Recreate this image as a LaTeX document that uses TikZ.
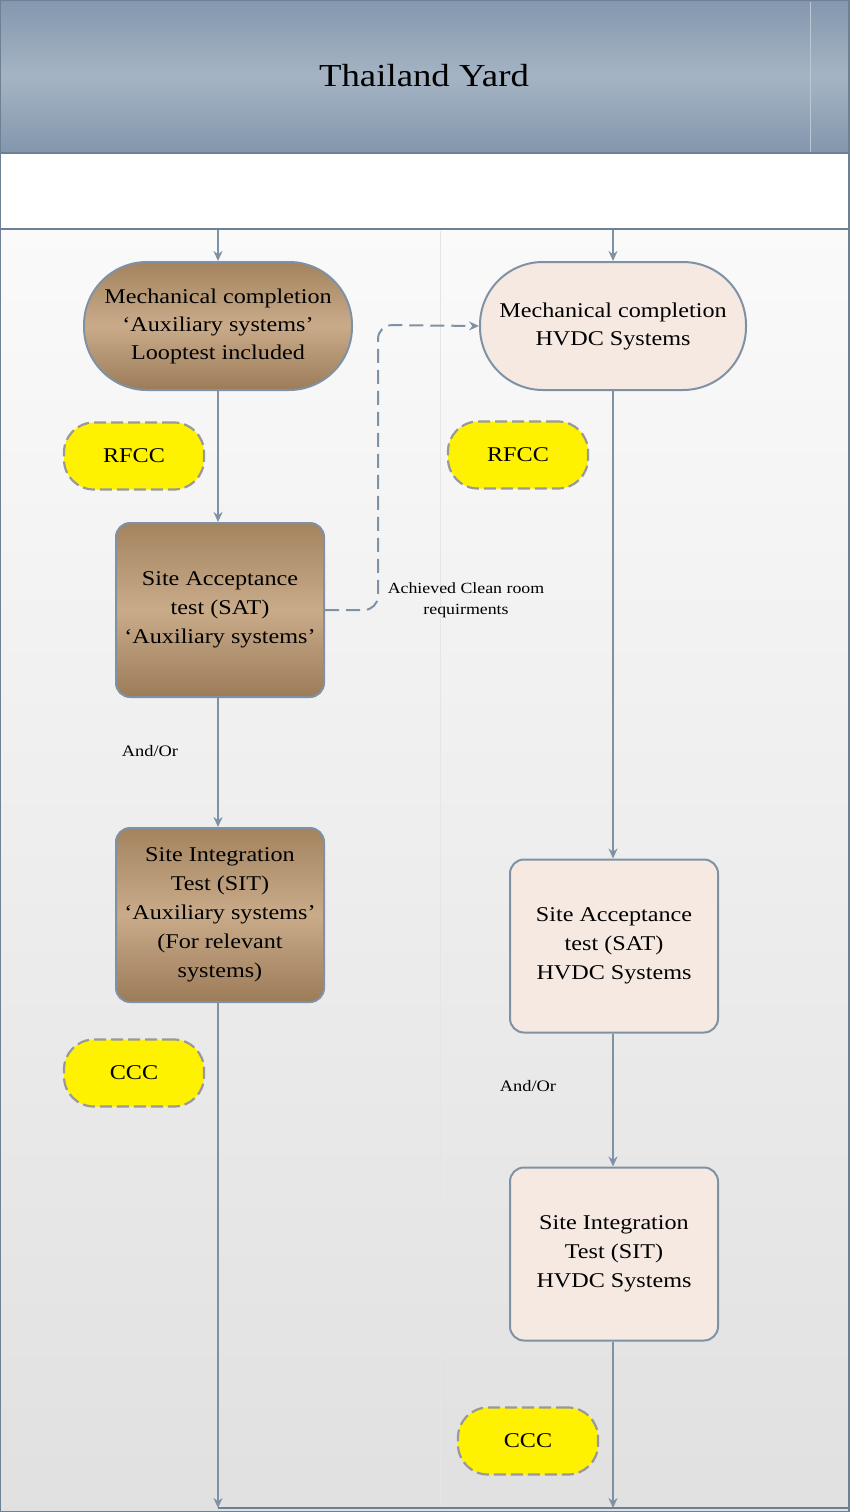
\documentclass[tikz,border=0pt]{standalone}
\usepackage{fontspec}
\setmainfont{Liberation Serif}[FakeStretch=1.15]
\usetikzlibrary{arrows.meta,shapes.misc}
\definecolor{lineC}{HTML}{7F92A5}
\definecolor{frameC}{HTML}{6E8194}
\definecolor{brTop}{HTML}{A4845F}
\definecolor{brMid}{HTML}{C9AB8A}
\definecolor{brBot}{HTML}{9C7B58}
\definecolor{pinkC}{HTML}{F5E9E2}
\definecolor{hdTop}{HTML}{8497AE}
\definecolor{hdMid}{HTML}{A5B4C4}
\definecolor{hdBot}{HTML}{8396AD}
\tikzset{
  conn/.style={draw=lineC, line width=2pt, -{Stealth[length=10pt,width=9pt]}},
  brownstadium/.style={draw=lineC, line width=2pt, top color=brTop, bottom color=brBot, middle color=brMid, shading=axis, minimum width=268pt, minimum height=128pt, rounded corners=63pt, align=center, font=\fontsize{21}{28}\selectfont},
  pinkstadium/.style={draw=lineC, line width=2pt, fill=pinkC, minimum width=266pt, minimum height=128pt, rounded corners=63pt, align=center, font=\fontsize{21}{28}\selectfont},
  brownbox/.style={draw=lineC, line width=2pt, top color=brTop, bottom color=brBot, middle color=brMid, shading=axis, minimum width=208pt, minimum height=174pt, rounded corners=14pt, align=center, font=\fontsize{21}{29}\selectfont},
  pinkbox/.style={draw=lineC, line width=2pt, fill=pinkC, minimum width=208pt, minimum height=173pt, rounded corners=14pt, align=center, font=\fontsize{21}{29}\selectfont},
  milestone/.style={draw=gray!80, dashed, dash pattern=on 12pt off 5pt, line width=2.2pt, fill=yellow, minimum width=140pt, minimum height=67pt, rounded corners=30pt, font=\fontsize{21}{24}\selectfont},
  smalllabel/.style={align=center, font=\fontsize{15.5}{21}\selectfont},
}
\begin{document}
\begin{tikzpicture}[x=1pt,y=-1pt]
\useasboundingbox (0,0) rectangle (849,1512);
% body background
\shade[top color=white!98!black, bottom color=white!88!black] (0,230) rectangle (849,1512);
% header
\shade[top color=hdTop, bottom color=hdBot, middle color=hdMid] (0,0) rectangle (849,153);
\fill[white] (0,153) rectangle (849,228);
\draw[frameC, line width=1.5pt] (0,153) -- (849,153);
\draw[frameC, line width=2pt] (0,229) -- (849,229);
\draw[white!90!black, line width=0.5pt] (440,231) -- (440,1507);
\draw[white!25!hdMid, line width=0.5pt] (810,2) -- (810,152);
\node[font=\fontsize{32}{36}\selectfont] (title) at (424,76) {Thailand Yard};
% nodes
\node[brownstadium] (mc1) at (218,326) {Mechanical completion\\‘Auxiliary systems’\\Looptest included};
\node[pinkstadium] (mc2) at (613,326) {Mechanical completion\\HVDC Systems};
\node[milestone] (rfcc1) at (134,456) {RFCC};
\node[milestone] (rfcc2) at (518,455) {RFCC};
\node[brownbox] (sat1) at (220,610) {Site Acceptance\\test (SAT)\\‘Auxiliary systems’};
\node[brownbox] (sit1) at (220,915) {Site Integration\\Test (SIT)\\‘Auxiliary systems’\\(For relevant\\systems)};
\node[milestone] (ccc1) at (134,1073) {CCC};
\node[pinkbox] (sat2) at (614,946) {Site Acceptance\\test (SAT)\\HVDC Systems};
\node[pinkbox] (sit2) at (614,1254) {Site Integration\\Test (SIT)\\HVDC Systems};
\node[milestone] (ccc2) at (528,1441) {CCC};
\node[smalllabel] (lblclean) at (466,600) {Achieved Clean room\\requirments};
\node[smalllabel, font=\fontsize{16}{20}\selectfont] (andor1) at (150,751) {And/Or};
\node[smalllabel, font=\fontsize{16}{20}\selectfont] (andor2) at (528,1086) {And/Or};
% coordinates
\coordinate (topL) at (218,230);
\coordinate (topR) at (613,230);
\coordinate (botL) at (218,1508);
\coordinate (botR) at (613,1508);
\coordinate (botE) at (849,1508);
% connectors
\draw[conn] (topL) -- (mc1.north);
\draw[conn] (topR) -- (mc2.north);
\draw[conn] (mc1.south) -- (sat1.north -| mc1.south);
\draw[conn] (sat1.south -| mc1.south) -- (sit1.north -| mc1.south);
\draw[conn] (sit1.south -| mc1.south) -- (botL);
\draw[conn] (mc2.south) -- (sat2.north -| mc2.south);
\draw[conn] (sat2.south -| mc2.south) -- (sit2.north -| mc2.south);
\draw[conn] (sit2.south -| mc2.south) -- (botR);
\draw[conn, dashed, dash pattern=on 14pt off 7pt, rounded corners=14pt] (sat1.east) -- (378,610) -- (378,325) -- (mc2.west);
\draw[frameC, line width=2pt] (botL) -- (botE);
% frame
\draw[frameC, line width=2pt] (0,0) rectangle (849,1512);
\end{tikzpicture}
\end{document}
